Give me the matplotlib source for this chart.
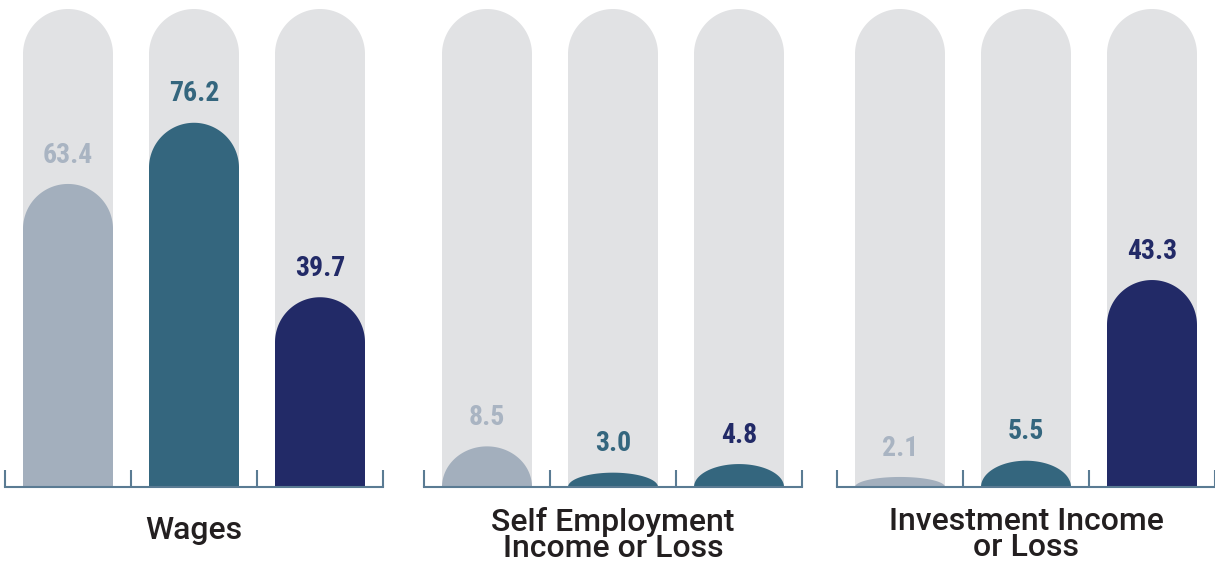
import numpy as np
import matplotlib.pyplot as plt
from matplotlib.patches import Polygon

# data
groups = ['Wages', 'Self Employment\nIncome or Loss', 'Investment Income\nor Loss']
values = [[63.4, 76.2, 39.7],
          [8.5, 3.0, 4.8],
          [2.1, 5.5, 43.3]]
labels = [['63.4', '76.2', '39.7'],
          ['8.5', '3.0', '4.8'],
          ['2.1', '5.5', '43.3']]
track_max = 100

GRAY = '#a3afbd'
TEAL = '#34667e'
NAVY = '#222a67'
BG = '#e1e2e4'
bar_colors = [[GRAY, TEAL, NAVY],
              [GRAY, TEAL, TEAL],
              [GRAY, TEAL, NAVY]]
label_colors = [['#a9b4c2', TEAL, NAVY]] * 3

W, H = 1215, 565
fig = plt.figure(figsize=(W / 100, H / 100), dpi=100)

lefts = [5, 424, 837]
gw = 378
base, top = 487, 9
bar_w = 90 / 126


def capsule(ax, cx, v, color, ry_unit):
    # bar with rounded top; the cap flattens for small values
    rx = bar_w / 2
    ry = min(ry_unit, v)
    t = np.linspace(0, np.pi, 80)
    xs = cx + rx * np.cos(t)
    ys = (v - ry) + ry * np.sin(t)
    pts = np.column_stack([np.r_[cx + rx, xs, cx - rx], np.r_[0, ys, 0]])
    ax.add_patch(Polygon(pts, closed=True, facecolor=color, edgecolor='none', zorder=2))


for g in range(3):
    ax = fig.add_axes([lefts[g] / W, (H - base) / H, gw / W, (base - top) / H])
    ax.set_xlim(0, 3)
    ax.set_ylim(0, track_max)
    # cap radius (45 px) in data units
    ry_unit = 45 / ((base - top) / track_max)
    for i, v in enumerate(values[g]):
        cx = i + 0.5
        capsule(ax, cx, track_max, BG, ry_unit)
        capsule(ax, cx, v, bar_colors[g][i], ry_unit)
        ax.text(cx, v + 3.2, labels[g][i], ha='center', va='bottom',
                fontsize=20, fontweight='bold', color=label_colors[g][i],
                family=['Liberation Sans Narrow', 'Roboto Condensed', 'DejaVu Sans'],
                stretch='condensed', zorder=3)
    for s in ['left', 'right', 'top']:
        ax.spines[s].set_visible(False)
    ax.spines['bottom'].set_color('#5a7b93')
    ax.spines['bottom'].set_linewidth(1.5)
    ax.spines['bottom'].set_zorder(4)
    ax.set_xticks([0, 1, 2, 3])
    ax.set_xticklabels([])
    ax.tick_params(axis='x', direction='in', length=12, width=1.5, color='#5a7b93')
    ax.set_yticks([])
    ax.patch.set_visible(False)
    for sp in ax.spines.values():
        sp.set_clip_on(False)
    ax.text(1.5, -9.0 if g == 0 else -10.0, groups[g], ha='center', va='center',
            fontsize=23, fontweight='medium', color='#231f20',
            family=['Roboto', 'Liberation Sans', 'DejaVu Sans'],
            linespacing=0.88, transform=ax.transData)

fig.savefig('out.png', dpi=100)
